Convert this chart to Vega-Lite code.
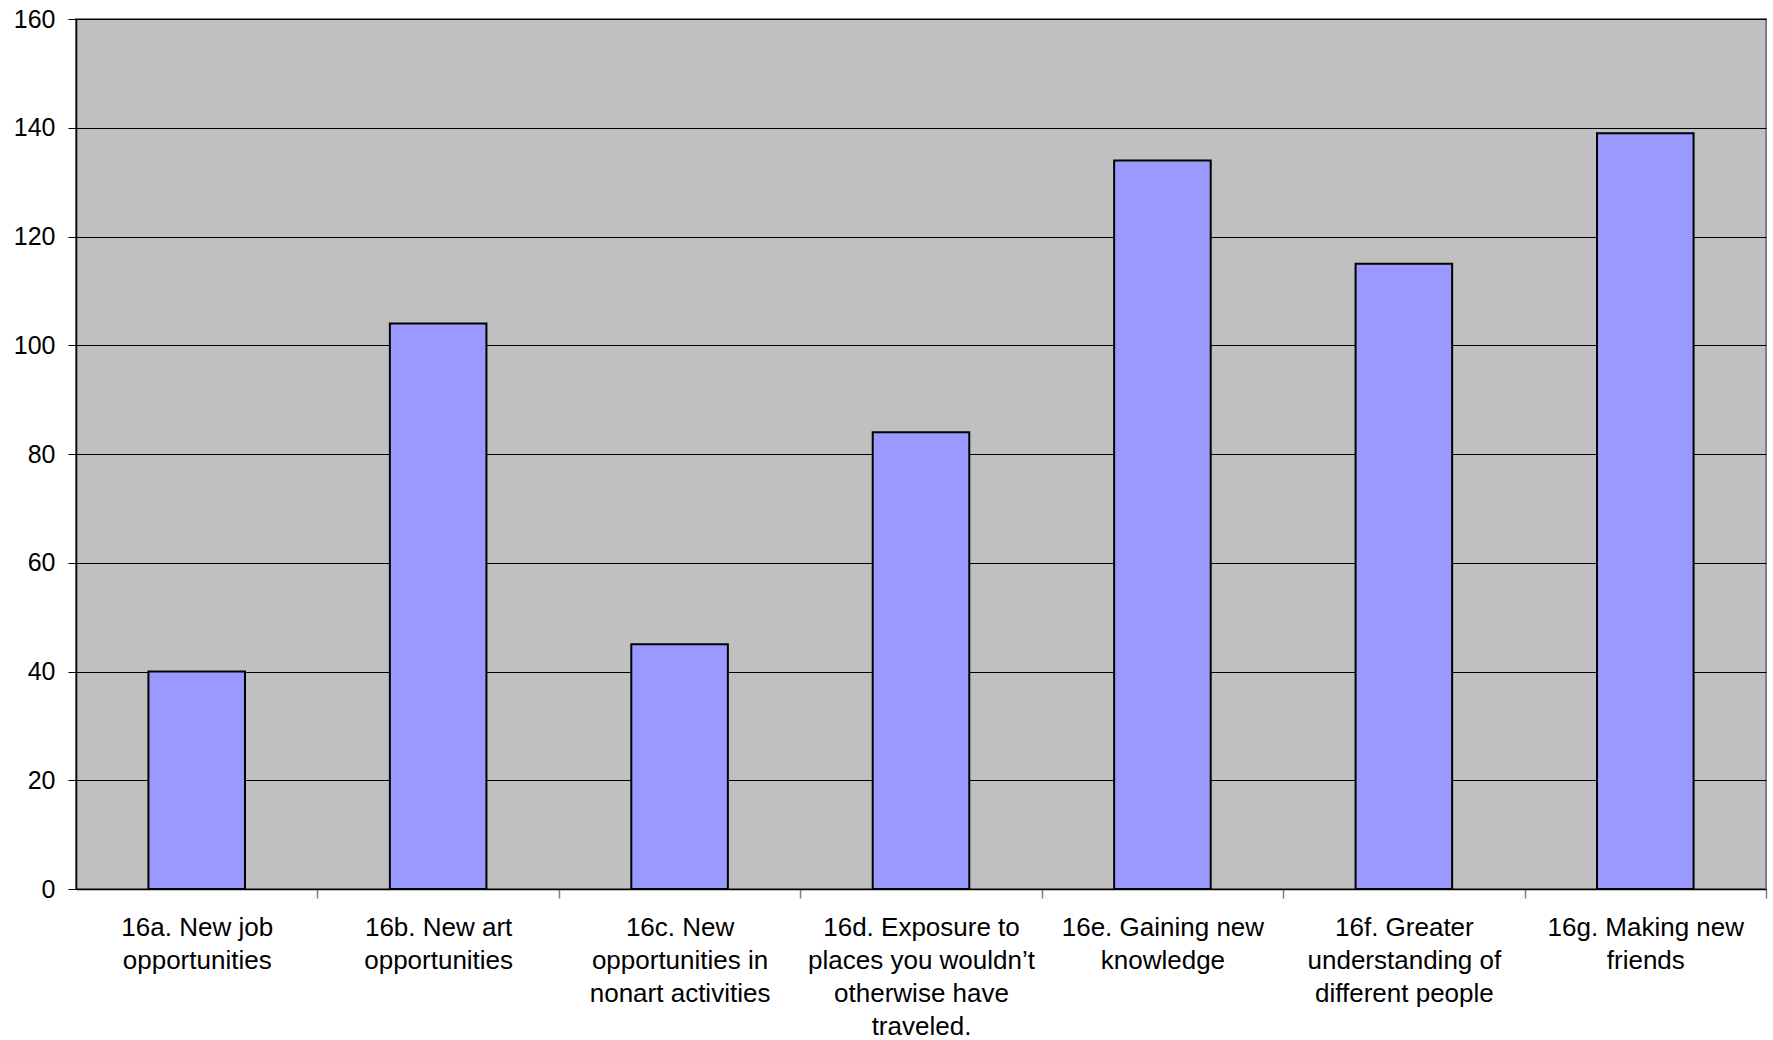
{
  "$schema": "https://vega.github.io/schema/vega-lite/v6.json",
  "width": 1690,
  "height": 870,
  "autosize": {"type": "none"},
  "padding": {"left": 76, "top": 19, "right": 7, "bottom": 151},
  "background": "white",
  "config": {
    "view": {"fill": "#c0c0c0", "stroke": "#808080", "strokeWidth": 2},
    "font": "Liberation Sans"
  },
  "data": {
    "values": [
      {"item": "16a. New job opportunities", "count": 40},
      {"item": "16b. New art opportunities", "count": 104},
      {"item": "16c. New opportunities in nonart activities", "count": 45},
      {"item": "16d. Exposure to places you wouldn’t otherwise have traveled.", "count": 84},
      {"item": "16e. Gaining new knowledge", "count": 134},
      {"item": "16f. Greater understanding of different people", "count": 115},
      {"item": "16g. Making new friends", "count": 139}
    ]
  },
  "mark": {"type": "bar", "fill": "#9999ff", "stroke": "#000000", "strokeWidth": 2},
  "encoding": {
    "x": {
      "field": "item",
      "type": "nominal",
      "sort": null,
      "scale": {"paddingInner": 0.6, "paddingOuter": 0.3},
      "axis": {
        "title": null,
        "labelAngle": 0,
        "labelFontSize": 26,
        "labelColor": "#000000",
        "labelLineHeight": 33,
        "labelPadding": 16,
        "labelLimit": 0,
        "labelOverlap": false,
        "labelBaseline": "top",
        "tickOffset": 120.71,
        "labelOffset": -120.71,
        "tickColor": "#808080",
        "tickSize": 9,
        "tickWidth": 1.5,
        "domainColor": "#000000",
        "domainWidth": 1.5,
        "labelExpr": "{'16a. New job opportunities': ['16a. New job', 'opportunities'], '16b. New art opportunities': ['16b. New art', 'opportunities'], '16c. New opportunities in nonart activities': ['16c. New', 'opportunities in', 'nonart activities'], '16d. Exposure to places you wouldn’t otherwise have traveled.': ['16d. Exposure to', 'places you wouldn’t', 'otherwise have', 'traveled.'], '16e. Gaining new knowledge': ['16e. Gaining new', 'knowledge'], '16f. Greater understanding of different people': ['16f. Greater', 'understanding of', 'different people'], '16g. Making new friends': ['16g. Making new', 'friends']}[datum.value]"
      }
    },
    "y": {
      "field": "count",
      "type": "quantitative",
      "scale": {"domain": [0, 160], "nice": false},
      "axis": {
        "title": null,
        "values": [0, 20, 40, 60, 80, 100, 120, 140, 160],
        "labelFontSize": 25,
        "labelColor": "#000000",
        "labelPadding": 13,
        "tickColor": "#000000",
        "tickSize": 8,
        "domainColor": "#000000",
        "domainWidth": 1.5,
        "grid": true,
        "gridColor": "#000000",
        "gridWidth": 1,
        "gridOpacity": 1
      }
    }
  }
}
